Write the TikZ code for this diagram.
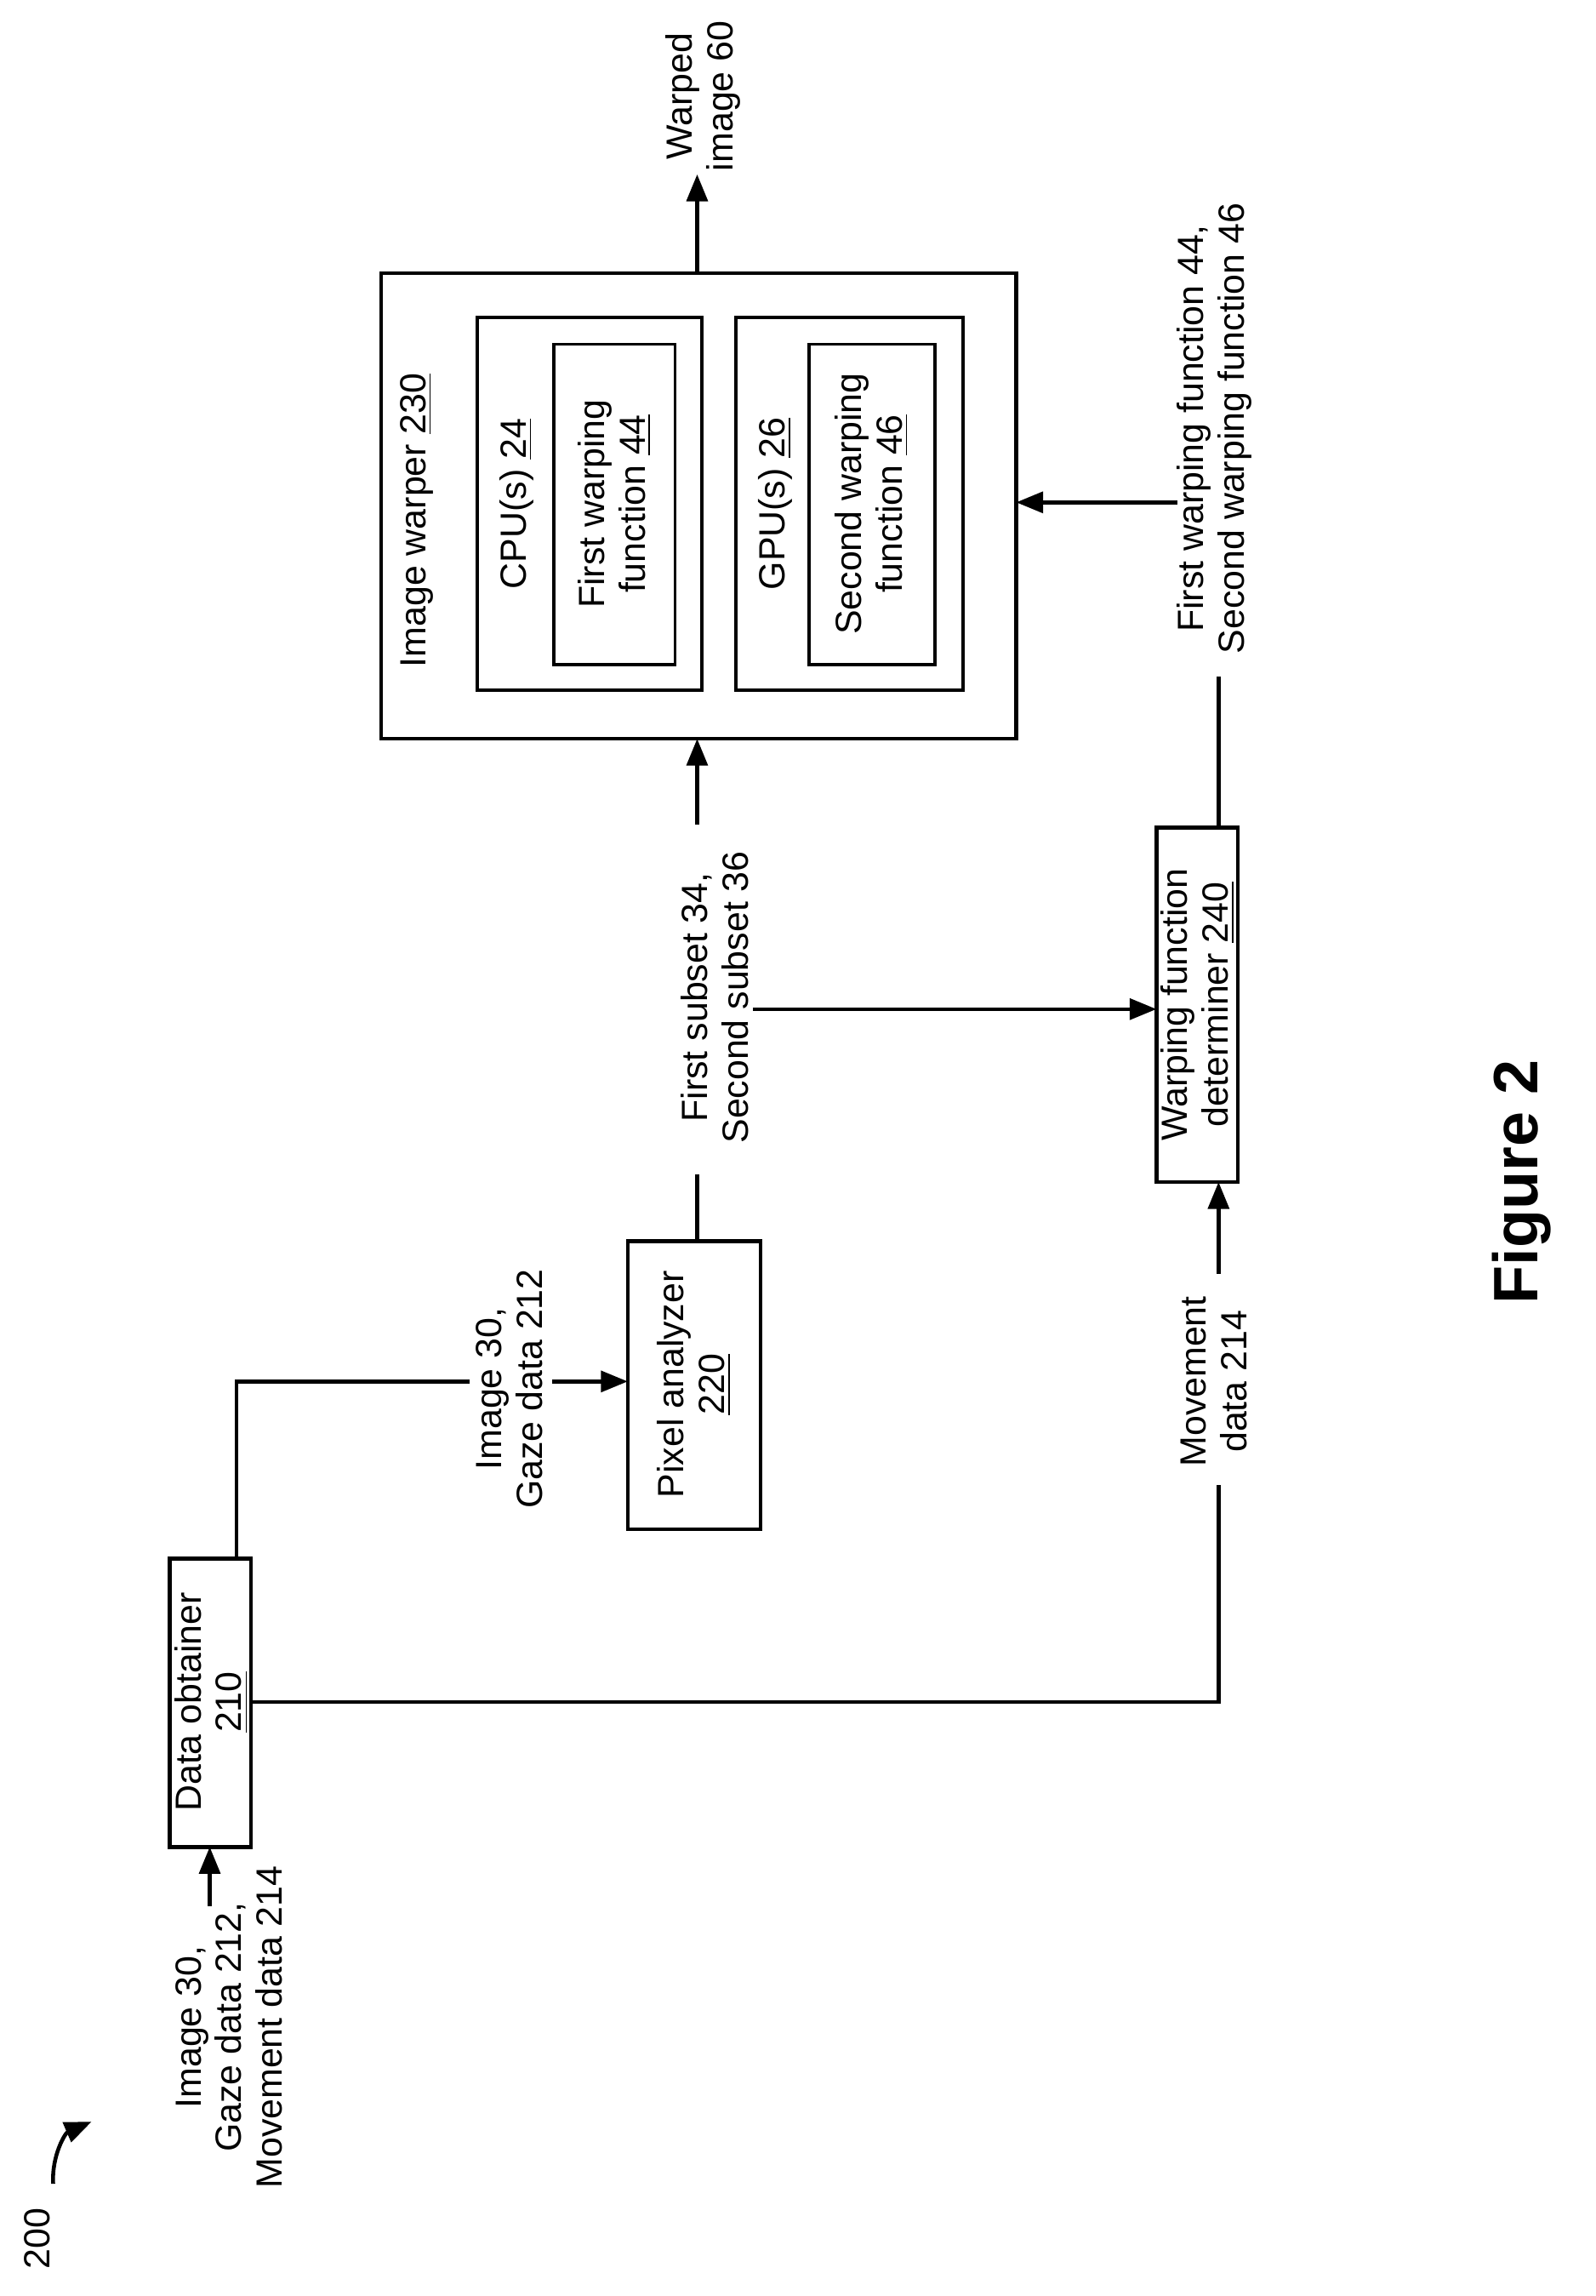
\documentclass[tikz,border=0pt]{standalone}
\usepackage{fontspec}
\setmainfont{Liberation Sans}
\usetikzlibrary{arrows.meta}
\begin{document}
\begin{tikzpicture}[x=0.01736cm,y=-0.01736cm,
  lw/.style={line width=1.3pt},
  box/.style={draw,line width=1.3pt},
  ibox/.style={draw,line width=1.1pt},
  txt/.style={rotate=90,align=center,font=\fontsize{12.2}{13.6}\selectfont,inner sep=0pt},
  arr/.style={lw,-{Triangle[length=9pt,width=7pt]}},
  ln/.style={lw}]
\useasboundingbox (0,0) rectangle (1080,1554);
% boxes
\draw[box] (115,1055) rectangle (170,1250);
\node[txt] (do) at (143,1152) {Data obtainer\\\underline{210}};
\coordinate (doT) at (160,1055); \coordinate (doB) at (142,1250); \coordinate (doR) at (170,1152);
\draw[box] (425,840) rectangle (515,1035);
\node[txt] (pa) at (470,937) {Pixel analyzer\\\underline{220}};
\coordinate (paL) at (425,935); \coordinate (paT) at (472,840);
\draw[box] (783,560) rectangle (838,800);
\node[txt] (wf) at (811,680) {Warping function\\determiner \underline{240}};
\coordinate (wfL) at (783,683); \coordinate (wfB) at (825,800); \coordinate (wfT) at (825,560);
\draw[box] (258,185) rectangle (688,500);
\node[txt,anchor=west] (iw) at (282,452) {Image warper \underline{230}};
\coordinate (iwB) at (472,500); \coordinate (iwR) at (688,340); \coordinate (iwT) at (472,185);
\draw[ibox] (323,215) rectangle (475,467);
\node[txt] (cpu) at (350,341) {CPU(s) \underline{24}};
\draw[ibox] (375,233) rectangle (457,450);
\node[txt] (f44) at (416,341) {First warping\\function \underline{44}};
\draw[ibox] (498,215) rectangle (652,467);
\node[txt] (gpu) at (525,341) {GPU(s) \underline{26}};
\draw[ibox] (548,233) rectangle (633,450);
\node[txt] (f46) at (590,341) {Second warping\\function \underline{46}};
% labels
\node[txt] (in) at (155,1372) {Image 30,\\Gaze data 212,\\Movement data 214};
\node[txt] (l1) at (345,940) {Image 30,\\Gaze data 212};
\node[txt] (l2) at (484,675) {First subset 34,\\Second subset 36};
\node[txt] (l3) at (822,935) {Movement\\data 214};
\node[txt] (l4) at (822,290) {First warping function 44,\\Second warping function 46};
\node[txt] (l5) at (476,65) {Warped\\image 60};
\node[txt] (n200) at (25,1515) {200};
\node[rotate=90,font=\bfseries\fontsize{21}{24}\selectfont] (fig) at (1030,800) {Figure 2};
% connectors
\draw[arr] (142,1290) -- (doB);
\draw[ln] (doT) -- (160,935) -- (318,935);
\draw[arr] (374,935) -- (paL);
\draw[ln] (paT) -- (472,795);
\draw[arr] (472,558) -- (iwB);
\draw[arr] (510,683) -- (wfL);
\draw[ln] (doR) -- (825,1152) -- (825,1005);
\draw[arr] (825,862) -- (wfB);
\draw[ln] (wfT) -- (825,458);
\draw[arr] (797,340) -- (iwR);
\draw[arr] (iwT) -- (472,118);
\draw[lw,-{Triangle[length=9pt,width=7pt]}] (36,1478) to[bend left=35] (62,1436);
\end{tikzpicture}
\end{document}
